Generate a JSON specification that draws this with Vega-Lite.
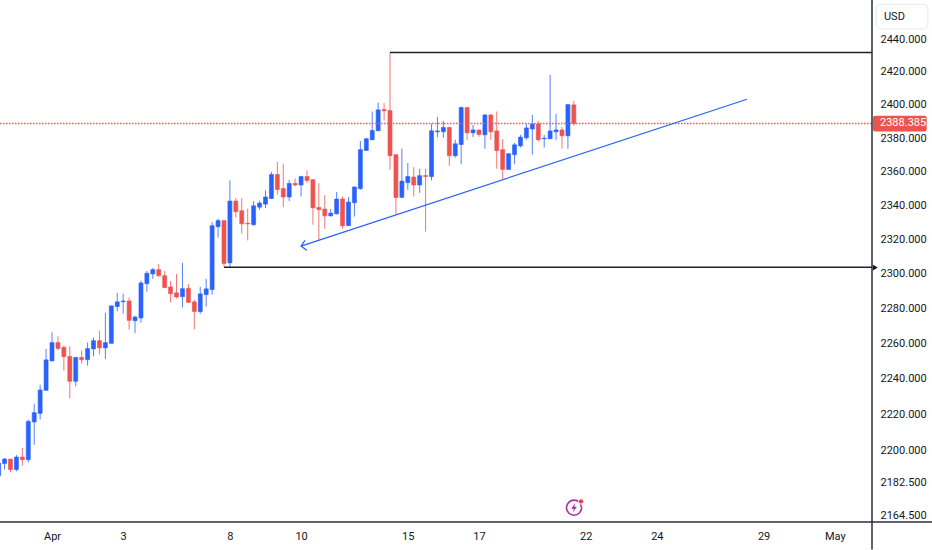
{
  "$schema": "https://vega.github.io/schema/vega-lite/v6.json",
  "description": "Gold 4H candles with range levels and a rising trend line",
  "autosize": {"type": "none"},
  "padding": {"left": 0, "top": 0, "right": 60, "bottom": 28},
  "width": 872,
  "height": 522,
  "background": "#ffffff",
  "config": {
    "view": {"stroke": null},
    "axis": {"labelFont": "Roboto", "labelFontSize": 11, "labelColor": "#131722", "grid": false, "ticks": false, "domain": false, "title": null},
    "text": {"font": "Roboto", "fontSize": 11}
  },
  "datasets": {
    "candles": [
      {"bar": -9, "open": 2185.8, "high": 2192.7, "low": 2184.7, "close": 2192.7},
      {"bar": -8, "open": 2192.4, "high": 2195.5, "low": 2189.1, "close": 2194.9},
      {"bar": -7, "open": 2194.9, "high": 2194.9, "low": 2187.6, "close": 2189.1},
      {"bar": -6, "open": 2189.1, "high": 2197.1, "low": 2188.1, "close": 2196.0},
      {"bar": -5, "open": 2196.0, "high": 2201.0, "low": 2191.3, "close": 2194.6},
      {"bar": -4, "open": 2194.6, "high": 2216.8, "low": 2193.1, "close": 2215.8},
      {"bar": -3, "open": 2215.5, "high": 2225.7, "low": 2202.8, "close": 2220.7},
      {"bar": -2, "open": 2220.3, "high": 2236.4, "low": 2216.9, "close": 2233.4},
      {"bar": -1, "open": 2233.2, "high": 2256.6, "low": 2233.2, "close": 2250.4},
      {"bar": 0, "open": 2249.8, "high": 2266.1, "low": 2249.8, "close": 2260.2},
      {"bar": 1, "open": 2260.2, "high": 2263.8, "low": 2255.8, "close": 2256.9},
      {"bar": 2, "open": 2257.5, "high": 2258.6, "low": 2244.3, "close": 2252.2},
      {"bar": 3, "open": 2252.4, "high": 2258.1, "low": 2228.7, "close": 2238.3},
      {"bar": 4, "open": 2238.3, "high": 2251.8, "low": 2235.4, "close": 2251.8},
      {"bar": 5, "open": 2251.8, "high": 2255.8, "low": 2248.3, "close": 2250.5},
      {"bar": 6, "open": 2250.5, "high": 2260.3, "low": 2247.1, "close": 2256.8},
      {"bar": 7, "open": 2256.6, "high": 2263.0, "low": 2252.4, "close": 2261.3},
      {"bar": 8, "open": 2261.3, "high": 2267.0, "low": 2253.5, "close": 2257.2},
      {"bar": 9, "open": 2257.2, "high": 2277.3, "low": 2250.9, "close": 2260.2},
      {"bar": 10, "open": 2259.8, "high": 2281.2, "low": 2259.8, "close": 2281.2},
      {"bar": 11, "open": 2280.8, "high": 2288.7, "low": 2278.1, "close": 2283.5},
      {"bar": 12, "open": 2283.6, "high": 2288.1, "low": 2276.7, "close": 2284.0},
      {"bar": 13, "open": 2284.0, "high": 2286.1, "low": 2267.6, "close": 2272.9},
      {"bar": 14, "open": 2272.7, "high": 2275.6, "low": 2265.5, "close": 2274.8},
      {"bar": 15, "open": 2274.3, "high": 2295.7, "low": 2271.6, "close": 2294.4},
      {"bar": 16, "open": 2294.0, "high": 2301.3, "low": 2289.4, "close": 2300.0},
      {"bar": 17, "open": 2299.6, "high": 2303.1, "low": 2296.7, "close": 2302.1},
      {"bar": 18, "open": 2302.1, "high": 2305.4, "low": 2297.9, "close": 2298.6},
      {"bar": 19, "open": 2298.6, "high": 2301.3, "low": 2291.7, "close": 2291.7},
      {"bar": 20, "open": 2292.1, "high": 2295.6, "low": 2283.2, "close": 2288.2},
      {"bar": 21, "open": 2288.7, "high": 2299.6, "low": 2285.5, "close": 2286.3},
      {"bar": 22, "open": 2286.5, "high": 2306.0, "low": 2280.3, "close": 2291.1},
      {"bar": 23, "open": 2291.3, "high": 2293.8, "low": 2283.2, "close": 2283.2},
      {"bar": 24, "open": 2283.5, "high": 2284.8, "low": 2267.8, "close": 2278.0},
      {"bar": 25, "open": 2277.9, "high": 2292.1, "low": 2276.7, "close": 2288.1},
      {"bar": 26, "open": 2287.7, "high": 2296.7, "low": 2280.8, "close": 2291.0},
      {"bar": 27, "open": 2290.6, "high": 2329.8, "low": 2287.7, "close": 2327.7},
      {"bar": 28, "open": 2327.1, "high": 2331.8, "low": 2320.8, "close": 2330.7},
      {"bar": 29, "open": 2330.7, "high": 2330.7, "low": 2304.0, "close": 2305.7},
      {"bar": 30, "open": 2306.0, "high": 2354.4, "low": 2303.2, "close": 2342.2},
      {"bar": 31, "open": 2342.2, "high": 2344.1, "low": 2332.4, "close": 2335.9},
      {"bar": 32, "open": 2336.5, "high": 2343.9, "low": 2323.2, "close": 2328.8},
      {"bar": 33, "open": 2329.2, "high": 2337.7, "low": 2319.1, "close": 2328.8},
      {"bar": 34, "open": 2328.3, "high": 2342.2, "low": 2327.7, "close": 2339.4},
      {"bar": 35, "open": 2338.6, "high": 2342.4, "low": 2337.1, "close": 2341.0},
      {"bar": 36, "open": 2340.4, "high": 2348.5, "low": 2338.1, "close": 2344.6},
      {"bar": 37, "open": 2343.7, "high": 2359.5, "low": 2343.4, "close": 2357.9},
      {"bar": 38, "open": 2357.9, "high": 2365.5, "low": 2345.9, "close": 2349.0},
      {"bar": 39, "open": 2349.6, "high": 2364.3, "low": 2338.6, "close": 2344.6},
      {"bar": 40, "open": 2344.6, "high": 2354.8, "low": 2342.2, "close": 2352.6},
      {"bar": 41, "open": 2352.6, "high": 2355.6, "low": 2350.8, "close": 2351.7},
      {"bar": 42, "open": 2351.7, "high": 2357.2, "low": 2344.9, "close": 2356.7},
      {"bar": 43, "open": 2356.7, "high": 2360.3, "low": 2352.8, "close": 2354.4},
      {"bar": 44, "open": 2354.8, "high": 2355.2, "low": 2328.3, "close": 2338.2},
      {"bar": 45, "open": 2338.4, "high": 2352.8, "low": 2319.1, "close": 2337.2},
      {"bar": 46, "open": 2337.5, "high": 2345.7, "low": 2325.9, "close": 2333.5},
      {"bar": 47, "open": 2333.5, "high": 2337.5, "low": 2333.1, "close": 2335.1},
      {"bar": 48, "open": 2334.7, "high": 2347.5, "low": 2334.3, "close": 2343.4},
      {"bar": 49, "open": 2343.4, "high": 2344.9, "low": 2326.1, "close": 2327.7},
      {"bar": 50, "open": 2327.7, "high": 2344.6, "low": 2327.7, "close": 2341.6},
      {"bar": 51, "open": 2341.2, "high": 2350.8, "low": 2333.1, "close": 2350.5},
      {"bar": 52, "open": 2349.5, "high": 2377.9, "low": 2348.9, "close": 2372.7},
      {"bar": 53, "open": 2372.2, "high": 2379.6, "low": 2372.2, "close": 2379.2},
      {"bar": 54, "open": 2378.6, "high": 2395.6, "low": 2378.6, "close": 2384.2},
      {"bar": 55, "open": 2384.0, "high": 2401.0, "low": 2384.0, "close": 2396.6},
      {"bar": 56, "open": 2396.8, "high": 2400.7, "low": 2390.2, "close": 2396.0},
      {"bar": 57, "open": 2396.2, "high": 2431.4, "low": 2360.7, "close": 2369.1},
      {"bar": 58, "open": 2369.7, "high": 2369.7, "low": 2334.1, "close": 2344.3},
      {"bar": 59, "open": 2344.4, "high": 2373.3, "low": 2344.0, "close": 2354.0},
      {"bar": 60, "open": 2353.1, "high": 2364.7, "low": 2348.9, "close": 2356.7},
      {"bar": 61, "open": 2356.4, "high": 2362.3, "low": 2344.9, "close": 2351.7},
      {"bar": 62, "open": 2351.7, "high": 2361.3, "low": 2347.0, "close": 2357.2},
      {"bar": 63, "open": 2357.3, "high": 2361.3, "low": 2324.3, "close": 2356.7},
      {"bar": 64, "open": 2356.7, "high": 2388.2, "low": 2354.4, "close": 2384.0},
      {"bar": 65, "open": 2383.4, "high": 2392.3, "low": 2380.2, "close": 2383.9},
      {"bar": 66, "open": 2383.4, "high": 2389.9, "low": 2379.8, "close": 2386.0},
      {"bar": 67, "open": 2386.0, "high": 2386.4, "low": 2363.1, "close": 2369.1},
      {"bar": 68, "open": 2369.1, "high": 2378.6, "low": 2367.9, "close": 2376.2},
      {"bar": 69, "open": 2375.8, "high": 2398.6, "low": 2363.9, "close": 2398.0},
      {"bar": 70, "open": 2398.0, "high": 2398.0, "low": 2378.6, "close": 2382.8},
      {"bar": 71, "open": 2382.8, "high": 2387.5, "low": 2380.2, "close": 2384.5},
      {"bar": 72, "open": 2384.5, "high": 2384.5, "low": 2380.4, "close": 2381.8},
      {"bar": 73, "open": 2381.6, "high": 2394.1, "low": 2373.3, "close": 2393.5},
      {"bar": 74, "open": 2393.5, "high": 2394.2, "low": 2378.6, "close": 2383.4},
      {"bar": 75, "open": 2383.9, "high": 2395.6, "low": 2361.3, "close": 2372.1},
      {"bar": 76, "open": 2372.7, "high": 2379.0, "low": 2354.8, "close": 2360.9},
      {"bar": 77, "open": 2360.9, "high": 2370.3, "low": 2360.9, "close": 2370.3},
      {"bar": 78, "open": 2369.7, "high": 2376.7, "low": 2364.3, "close": 2375.6},
      {"bar": 79, "open": 2375.0, "high": 2381.5, "low": 2374.0, "close": 2380.2},
      {"bar": 80, "open": 2379.8, "high": 2388.2, "low": 2378.6, "close": 2385.7},
      {"bar": 81, "open": 2385.1, "high": 2393.5, "low": 2369.7, "close": 2388.1},
      {"bar": 82, "open": 2388.1, "high": 2389.9, "low": 2377.6, "close": 2378.6},
      {"bar": 83, "open": 2379.2, "high": 2381.5, "low": 2374.0, "close": 2379.6},
      {"bar": 84, "open": 2379.2, "high": 2417.8, "low": 2379.2, "close": 2383.9},
      {"bar": 85, "open": 2383.4, "high": 2394.1, "low": 2378.6, "close": 2384.5},
      {"bar": 86, "open": 2384.5, "high": 2386.3, "low": 2373.3, "close": 2381.0},
      {"bar": 87, "open": 2381.0, "high": 2399.8, "low": 2373.3, "close": 2399.8},
      {"bar": 88, "open": 2399.6, "high": 2402.0, "low": 2386.9, "close": 2388.385}
    ],
    "levels": [
      {"name": "range high", "bar": 57, "price": 2431.5},
      {"name": "range high", "bar": 138.28, "price": 2431.5},
      {"name": "range low", "bar": 29, "price": 2303.5},
      {"name": "range low", "bar": 138.28, "price": 2303.5}
    ],
    "trend": [
      {"name": "line", "seq": 0, "bar": 42, "price": 2315.8},
      {"name": "line", "seq": 1, "bar": 117.2, "price": 2403},
      {"name": "head", "seq": 0, "bar": 42.66, "price": 2319.1},
      {"name": "head", "seq": 1, "bar": 42, "price": 2315.8},
      {"name": "head", "seq": 2, "bar": 42.95, "price": 2313.3}
    ],
    "frame": [
      {"bar": 138.28, "bar2": 138.28, "price": 2463.8, "price2": 2145.5},
      {"bar": -8.77, "bar2": 148.4, "price": 2160.4, "price2": 2160.4}
    ]
  },
  "encoding": {
    "x": {
      "field": "bar",
      "type": "quantitative",
      "scale": {"domain": [-8.77, 138.28], "nice": false, "zero": false, "padding": 0},
      "axis": {
        "values": [0, 12, 30, 42, 60, 72, 90, 102, 120, 132],
        "labelExpr": "{'0':'Apr','12':'3','30':'8','42':'10','60':'15','72':'17','90':'22','102':'24','120':'29','132':'May'}[datum.value]",
        "labelPadding": 8,
        "labelOverlap": false,
        "labelBound": false,
        "labelFlush": false
      }
    },
    "y": {
      "field": "price",
      "type": "quantitative",
      "scale": {"type": "log", "domain": [2160.4, 2463.8], "nice": false, "zero": false},
      "axis": {
        "orient": "right",
        "values": [2440, 2420, 2400, 2380, 2360, 2340, 2320, 2300, 2280, 2260, 2240, 2220, 2200, 2182.5, 2164.5],
        "format": ".3f",
        "labelPadding": 8,
        "labelOffset": 0.7,
        "labelOverlap": false,
        "labelBound": false,
        "labelFlush": false
      }
    }
  },
  "layer": [
    {
      "data": {"name": "candles"},
      "mark": {"type": "rule", "strokeWidth": 1, "opacity": 0.8},
      "encoding": {
        "y": {"field": "low", "type": "quantitative", "scale": {"type": "log", "domain": [2160.4, 2463.8], "nice": false, "zero": false}},
        "y2": {"field": "high"},
        "color": {"condition": {"test": "datum.close >= datum.open", "value": "#2962ff"}, "value": "#ef5350"}
      }
    },
    {
      "data": {"name": "candles"},
      "mark": {"type": "bar", "size": 4, "strokeWidth": 0.6},
      "encoding": {
        "y": {"field": "open", "type": "quantitative", "scale": {"type": "log", "domain": [2160.4, 2463.8], "nice": false, "zero": false}},
        "y2": {"field": "close"},
        "color": {"condition": {"test": "datum.close >= datum.open", "value": "#2962ff"}, "value": "#ef5350"},
        "stroke": {"condition": {"test": "datum.close >= datum.open", "value": "#2962ff"}, "value": "#ef5350"}
      }
    },
    {
      "data": {"values": [{"bar": -8.77, "price": 2388.385}, {"bar": 138.28, "price": 2388.385}]},
      "mark": {"type": "line", "strokeWidth": 1.5, "strokeDash": [1.5, 1.5], "color": "#f7525f"}
    },
    {
      "data": {"name": "levels"},
      "mark": {"type": "line", "strokeWidth": 1.5, "color": "#1e222d"},
      "encoding": {"detail": {"field": "name"}}
    },
    {
      "data": {"name": "trend"},
      "mark": {"type": "line", "strokeWidth": 1.25, "color": "#2962ff"},
      "encoding": {"detail": {"field": "name"}, "order": {"field": "seq", "type": "ordinal"}}
    },
    {
      "data": {"name": "frame"},
      "mark": {"type": "rule", "strokeWidth": 1.5, "color": "#2a2e39"},
      "encoding": {"x2": {"field": "bar2"}, "y2": {"field": "price2"}}
    },
    {
      "data": {"values": [{"bar": 138.85, "price": 2303.3}]},
      "mark": {"type": "point", "shape": "triangle-right", "filled": true, "size": 32, "color": "#131722", "opacity": 1}
    },
    {
      "data": {"values": [{"bar": 139, "bar2": 147.7, "price": 2445.9, "price2": 2461.1}]},
      "mark": {"type": "rect", "fill": "#ffffff", "stroke": "#e6e9f0", "strokeWidth": 1, "cornerRadius": 4},
      "encoding": {"x2": {"field": "bar2"}, "y2": {"field": "price2"}}
    },
    {
      "data": {"values": [{"bar": 140.3, "price": 2453.2, "label": "USD"}]},
      "mark": {"type": "text", "align": "left", "baseline": "middle", "color": "#131722"},
      "encoding": {"text": {"field": "label"}}
    },
    {
      "data": {"values": [{"bar": 138.44, "bar2": 147.5, "price": 2383.6, "price2": 2393}]},
      "mark": {"type": "rect", "color": "#ef5350", "cornerRadius": 2},
      "encoding": {"x2": {"field": "bar2"}, "y2": {"field": "price2"}}
    },
    {
      "data": {"values": [{"bar": 139.63, "price": 2388.385}]},
      "mark": {"type": "text", "align": "left", "baseline": "middle", "color": "#ffffff"},
      "encoding": {"text": {"field": "price", "type": "quantitative", "format": ".3f"}}
    },
    {
      "data": {"values": [{"bar": 88.03, "price": 2168.2}]},
      "mark": {"type": "point", "shape": "circle", "size": 227, "filled": false, "strokeWidth": 1.6, "color": "#a62fa6", "opacity": 1}
    },
    {
      "data": {"values": [{"bar": 88.03, "price": 2168.2}]},
      "mark": {"type": "point", "shape": "M0.25,-1 L-0.6,0.2 L-0.05,0.2 L-0.25,1 L0.6,-0.2 L0.05,-0.2 Z", "size": 90, "filled": true, "color": "#a62fa6", "opacity": 1}
    },
    {
      "data": {"values": [{"bar": 89.2, "price": 2171.6}]},
      "mark": {"type": "point", "shape": "circle", "size": 28, "filled": true, "stroke": "#ffffff", "strokeWidth": 1, "color": "#f23645", "opacity": 1}
    }
  ]
}
